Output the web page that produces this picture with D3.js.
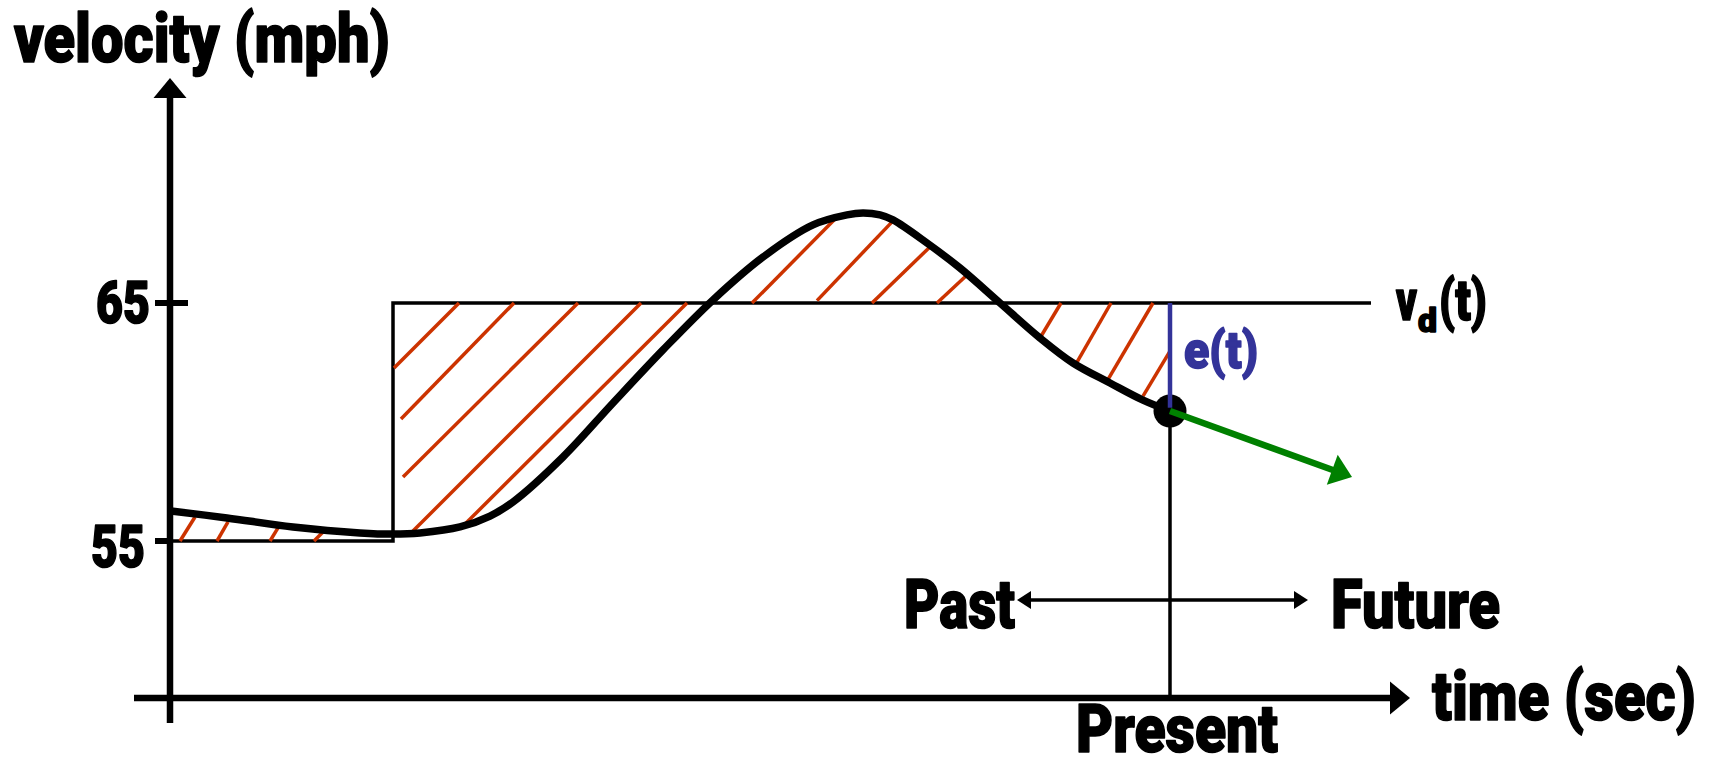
<!DOCTYPE html>
<html><head><meta charset="utf-8">
<script src="https://cdn.jsdelivr.net/npm/d3@7"></script>
<style>html,body{margin:0;padding:0;background:#fff;overflow:hidden} svg{display:block}</style>
</head><body>
<script>
// ---------- data (time in arbitrary units, velocity in mph) ----------
const curveTime = [0.01, 0.57, 1.23, 1.90, 2.23, 2.50, 2.90, 3.20, 3.43, 3.93, 4.43, 4.93, 5.43, 5.93, 6.43, 6.77, 6.93, 7.10, 7.23, 7.57, 7.90, 8.30, 8.70, 9.03, 9.40, 9.73, 10.0];
const curveVel  = [56.26, 55.97, 55.59, 55.34, 55.29, 55.34, 55.59, 56.05, 56.64, 58.53, 60.80, 63.03, 65.13, 66.93, 68.28, 68.70, 68.78, 68.70, 68.49, 67.52, 66.47, 65.00, 63.53, 62.48, 61.64, 60.92, 60.46];
const setpointTime = [0, 2.23, 2.23, 12.01];
const setpointVel  = [55, 55, 65, 65];
const velTicks = [55, 65];
const velTickLabels = ["55", "65"];
// hatch segments (start time/vel -> end time/vel)
const hatchT0 = [0.10, 0.47, 1.00, 1.44, 2.24, 2.31, 2.33, 2.39, 2.90, 5.82, 6.47, 7.02, 7.67, 8.70, 9.06, 9.36, 9.73];
const hatchV0 = [55.0, 55.0, 55.0, 55.0, 62.27, 60.13, 57.69, 55.25, 55.50, 65.0, 65.1, 65.0, 65.0, 63.53, 62.44, 61.64, 61.09];
const hatchT1 = [0.25, 0.58, 1.08, 1.53, 2.89, 3.44, 4.08, 4.71, 5.17, 6.67, 7.23, 7.62, 7.97, 8.91, 9.41, 9.83, 10.0];
const hatchV1 = [56.01, 55.80, 55.55, 55.38, 65.0, 65.0, 65.0, 65.0, 65.0, 68.61, 68.45, 67.44, 66.18, 65.0, 65.0, 65.0, 62.98];
const presentTime = 10;
const presentVel = 60.46;
const errorTopVel = 65;
const errorBottomVel = 60.6;
const slopeEndTime = 11.82;
const slopeEndVel = 57.69;

// ---------- layout ----------
const W = 1709, H = 757;
const x = d3.scaleLinear().domain([0, 10]).range([170, 1170]);
const y = d3.scaleLinear().domain([55, 65]).range([541, 303]);
const axisY = 698, axisLeft = 134, axisRight = 1410;
const yAxisTop = 78, yAxisBottom = 723;
const FONT = "Roboto, Inter, Lato, 'Liberation Sans', sans-serif";

const svg = d3.select("body").append("svg").attr("width", W).attr("height", H);

function arrowHead(g, tipX, tipY, dx, dy, len, half, color) {
  const n = Math.hypot(dx, dy); const ux = dx / n, uy = dy / n;
  const bx = tipX - ux * len, by = tipY - uy * len;
  g.append("path")
    .attr("d", `M${tipX},${tipY}L${bx - uy * half},${by + ux * half}L${bx + uy * half},${by - ux * half}Z`)
    .attr("fill", color);
}
function label(str, x0, base, size, width, color) {
  const c = color || "#000";
  return svg.append("text").attr("x", x0).attr("y", base)
    .attr("font-family", FONT).attr("font-weight", 900).attr("font-size", size)
    .attr("fill", c).attr("stroke", c).attr("stroke-width", 1.6).attr("stroke-linejoin", "round")
    .attr("textLength", width).attr("lengthAdjust", "spacingAndGlyphs")
    .text(str);
}

// axes
svg.append("line").attr("x1", x(0)).attr("x2", x(0)).attr("y1", yAxisBottom).attr("y2", yAxisTop + 18)
  .attr("stroke", "#000").attr("stroke-width", 6.5);
arrowHead(svg, x(0), yAxisTop, 0, -1, 20, 16.5, "#000");
svg.append("line").attr("x1", axisLeft).attr("x2", axisRight - 18).attr("y1", axisY).attr("y2", axisY)
  .attr("stroke", "#000").attr("stroke-width", 6.5);
arrowHead(svg, axisRight, axisY, 1, 0, 20, 16.5, "#000");

// ticks
velTicks.forEach((v) => {
  svg.append("line").attr("x1", x(0) - 15).attr("x2", x(0) + (v === 65 ? 18 : 0))
    .attr("y1", y(v)).attr("y2", y(v)).attr("stroke", "#000").attr("stroke-width", 6);
});
label(velTickLabels[1], 96, 323, 60, 54);
label(velTickLabels[0], 91, 567, 60, 54);

// setpoint
const lineGen = d3.line().x((d) => x(d[0])).y((d) => y(d[1]));
svg.append("path").attr("d", lineGen(setpointTime.map((t, i) => [t, setpointVel[i]])))
  .attr("fill", "none").attr("stroke", "#000").attr("stroke-width", 3.5);

// hatch
hatchT0.forEach((t, i) => {
  svg.append("line").attr("x1", x(t)).attr("y1", y(hatchV0[i]))
    .attr("x2", x(hatchT1[i])).attr("y2", y(hatchV1[i]))
    .attr("stroke", "#cc3300").attr("stroke-width", 3.5);
});

// present vertical line
svg.append("line").attr("x1", x(presentTime)).attr("x2", x(presentTime))
  .attr("y1", y(presentVel)).attr("y2", axisY).attr("stroke", "#000").attr("stroke-width", 3.5);

// velocity curve
const curveGen = d3.line().x((d) => x(d[0])).y((d) => y(d[1])).curve(d3.curveCatmullRom.alpha(0.5));
svg.append("path").attr("d", curveGen(curveTime.map((t, i) => [t, curveVel[i]])))
  .attr("fill", "none").attr("stroke", "#000").attr("stroke-width", 7.5).attr("stroke-linecap", "round");

// present point
svg.append("circle").attr("cx", x(presentTime)).attr("cy", y(presentVel)).attr("r", 16.5).attr("fill", "#000");

// error line
svg.append("line").attr("x1", x(presentTime)).attr("x2", x(presentTime))
  .attr("y1", y(errorTopVel)).attr("y2", y(errorBottomVel)).attr("stroke", "#333399").attr("stroke-width", 4.5);

// slope arrow
{
  const x0 = x(presentTime), y0 = y(presentVel), x1 = x(slopeEndTime), y1 = y(slopeEndVel);
  const n = Math.hypot(x1 - x0, y1 - y0);
  svg.append("line").attr("x1", x0).attr("y1", y0)
    .attr("x2", x1 - (x1 - x0) / n * 16).attr("y2", y1 - (y1 - y0) / n * 16)
    .attr("stroke", "#008000").attr("stroke-width", 6.5);
  arrowHead(svg, x1, y1, x1 - x0, y1 - y0, 21, 16, "#008000");
}

// past / future arrow
svg.append("line").attr("x1", 1017 + 10).attr("x2", 1308 - 10).attr("y1", 600).attr("y2", 600)
  .attr("stroke", "#000").attr("stroke-width", 3.5);
arrowHead(svg, 1017, 600, -1, 0, 14, 9, "#000");
arrowHead(svg, 1308, 600, 1, 0, 14, 9, "#000");

// labels
label("velocity (mph)", 14, 62, 68, 376);
{
  const t = svg.append("text").attr("font-family", FONT).attr("font-weight", 900)
    .attr("fill", "#000").attr("stroke", "#000").attr("stroke-width", 1.6).attr("stroke-linejoin", "round");
  t.append("tspan").attr("x", 1396).attr("y", 320).attr("font-size", 58).attr("textLength", 21)
    .attr("lengthAdjust", "spacingAndGlyphs").text("v");
  t.append("tspan").attr("x", 1418).attr("y", 332).attr("font-size", 34).attr("textLength", 19)
    .attr("lengthAdjust", "spacingAndGlyphs").text("d");
  t.append("tspan").attr("x", 1439).attr("y", 320).attr("font-size", 58).attr("textLength", 48)
    .attr("lengthAdjust", "spacingAndGlyphs").text("(t)");
}
label("e(t)", 1184, 368, 52, 74, "#333399");
label("Past", 904, 628, 68, 111);
label("Future", 1331, 628, 68, 169);
label("Present", 1076, 752, 66, 202);
label("time (sec)", 1432, 720, 68, 264);
</script>
</body></html>
